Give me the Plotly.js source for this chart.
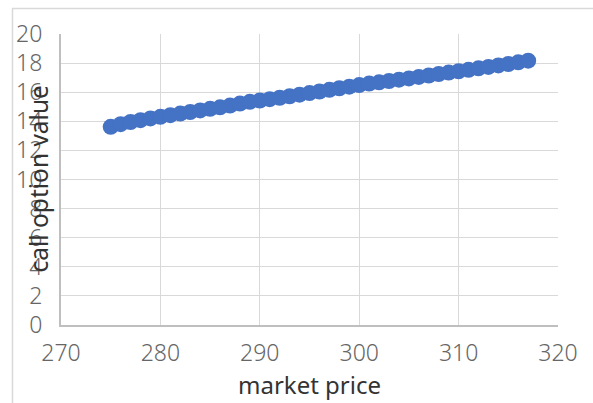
<!DOCTYPE html>
<html>
<head>
<meta charset="utf-8">
<script src="https://cdn.plot.ly/plotly-3.0.1.min.js"></script>
<style>html,body{margin:0;padding:0;background:#fff;}#chart{width:593px;height:403px;}</style>
</head>
<body>
<div id="chart"></div>
<script>
var marketPrice = [275,276,277,278,279,280,281,282,283,284,285,286,287,288,289,290,291,292,293,294,295,296,297,298,299,300,301,302,303,304,305,306,307,308,309,310,311,312,313,314,315,316,317];
var callValue = [13.62,13.80,13.95,14.08,14.20,14.31,14.42,14.53,14.64,14.75,14.86,14.96,15.08,15.22,15.34,15.43,15.52,15.62,15.72,15.83,15.94,16.05,16.16,16.27,16.38,16.49,16.59,16.68,16.77,16.86,16.95,17.05,17.15,17.25,17.35,17.44,17.54,17.64,17.74,17.84,17.94,18.05,18.17];
var xTicks = [270,280,290,300,310,320];
var yTicks = [0,2,4,6,8,10,12,14,16,18,20];
var xTitle = "market price";
var yTitle = "call option value";

var font = "Noto Sans, DejaVu Sans, sans-serif";
var trace = {
  x: marketPrice, y: callValue, type: "scatter", mode: "markers",
  marker: {color: "#4472C4", size: 16, line: {width: 0}},
  hoverinfo: "none"
};
var layout = {
  width: 593, height: 403,
  margin: {l: 61, r: 35, t: 34, b: 78},
  paper_bgcolor: "#fff", plot_bgcolor: "#fff",
  showlegend: false,
  font: {family: font, color: "#595959", size: 23},
  xaxis: {
    range: [270, 320], tickvals: xTicks, ticktext: xTicks.map(String),
    showgrid: true, gridcolor: "#d9d9d9", gridwidth: 1,
    showline: true, linecolor: "#bfbfbf", linewidth: 2,
    zeroline: false, ticks: "", ticklabelstandoff: 6,
    tickfont: {family: font, size: 23, color: "#666666", weight: 300},
    title: {text: xTitle, font: {family: font, size: 24, color: "#333333"}, standoff: 4}
  },
  yaxis: {
    range: [0, 20], tickvals: yTicks, ticktext: yTicks.map(String),
    showgrid: true, gridcolor: "#d9d9d9", gridwidth: 1,
    showline: true, linecolor: "#bfbfbf", linewidth: 2,
    zeroline: false, ticks: "", ticklabelstandoff: 12,
    tickfont: {family: font, size: 23, color: "#666666", weight: 300}
  },
  annotations: [{
    text: yTitle, textangle: -90, showarrow: false,
    xref: "paper", yref: "paper", x: (38 - 61) / 497, y: 0.5,
    xanchor: "center", yanchor: "middle",
    font: {family: font, size: 24.5, color: "#333333"}
  }],
  shapes: [{
    type: "rect", xref: "paper", yref: "paper",
    x0: (12.5 - 61) / 497, x1: (620 - 61) / 497,
    y0: (325 - 430) / 291, y1: (325 - 8.5) / 291,
    line: {color: "#d9d9d9", width: 1.5}, fillcolor: "rgba(0,0,0,0)", layer: "below"
  }]
};
Plotly.newPlot("chart", [trace], layout, {staticPlot: true, displayModeBar: false});
</script>
</body>
</html>
